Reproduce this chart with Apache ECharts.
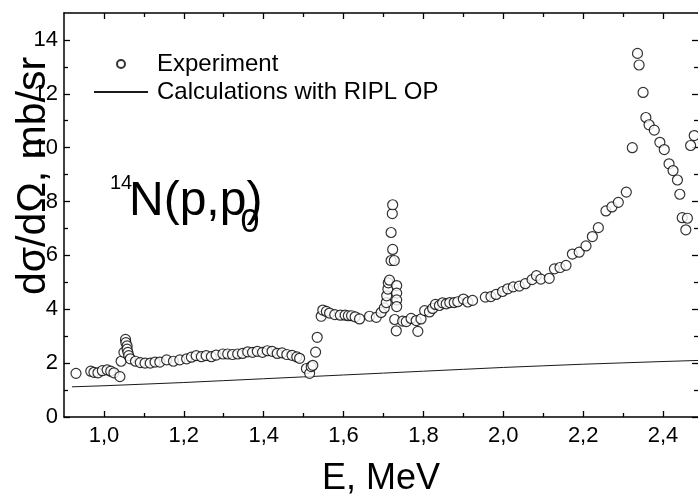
<!DOCTYPE html>
<html>
<head>
<meta charset="utf-8">
<script src="https://cdn.jsdelivr.net/npm/echarts@6/dist/echarts.min.js"></script>
<style>
  html, body { margin: 0; padding: 0; background: #ffffff; }
  #chart { width: 698px; height: 502px; }
</style>
</head>
<body>
<div id="chart"></div>
<script>
// Measured differential cross section, 14N(p,p0)
const expEnergy = [
  0.930, 0.967, 0.975, 0.985, 0.996, 1.008, 1.017, 1.025, 1.040, 1.043,
  1.050, 1.054, 1.055, 1.058, 1.058, 1.060, 1.062, 1.066, 1.079, 1.091,
  1.103, 1.116, 1.128, 1.140, 1.157, 1.174, 1.190, 1.207, 1.219, 1.231,
  1.244, 1.256, 1.269, 1.281, 1.298, 1.310, 1.322, 1.335, 1.347, 1.360,
  1.372, 1.384, 1.397, 1.409, 1.421, 1.434, 1.446, 1.458, 1.471, 1.483,
  1.490, 1.507, 1.515, 1.519, 1.523, 1.530, 1.534, 1.544, 1.548, 1.557,
  1.565, 1.578, 1.592, 1.604, 1.612, 1.620, 1.629, 1.640, 1.665, 1.682,
  1.694, 1.702, 1.707, 1.708, 1.711, 1.712, 1.715, 1.719, 1.727, 1.723,
  1.719, 1.722, 1.723, 1.733, 1.733, 1.733, 1.733, 1.728, 1.732, 1.748,
  1.757, 1.769, 1.782, 1.786, 1.794, 1.803, 1.815, 1.823, 1.830, 1.840,
  1.848, 1.857, 1.866, 1.877, 1.886, 1.900, 1.911, 1.923, 1.955, 1.969,
  1.982, 1.998, 2.011, 2.025, 2.040, 2.055, 2.072, 2.083, 2.094, 2.115,
  2.128, 2.142, 2.157, 2.173, 2.190, 2.207, 2.223, 2.238, 2.257, 2.272,
  2.288, 2.308, 2.323, 2.336, 2.340, 2.350, 2.357, 2.365, 2.378, 2.392,
  2.403, 2.415, 2.425, 2.436, 2.442, 2.448, 2.461, 2.457, 2.469, 2.478
];
const expSigma = [
  1.62, 1.70, 1.66, 1.64, 1.72, 1.75, 1.70, 1.64, 1.50, 2.07,
  2.40, 2.88, 2.76, 2.64, 2.52, 2.40, 2.28, 2.16, 2.07, 2.02,
  2.00, 2.00, 2.04, 2.04, 2.12, 2.07, 2.12, 2.16, 2.22, 2.28,
  2.24, 2.28, 2.24, 2.30, 2.34, 2.34, 2.32, 2.34, 2.36, 2.42,
  2.40, 2.44, 2.40, 2.46, 2.44, 2.36, 2.38, 2.32, 2.29, 2.23,
  2.18, 1.80, 1.62, 1.87, 1.92, 2.41, 2.96, 3.74, 3.97, 3.92,
  3.86, 3.80, 3.78, 3.78, 3.76, 3.76, 3.72, 3.64, 3.74, 3.70,
  3.88, 4.05, 4.25, 4.50, 4.75, 4.98, 5.08, 5.81, 5.81, 6.22,
  6.85, 7.55, 7.88, 4.88, 4.60, 4.35, 4.10, 3.62, 3.20, 3.56,
  3.54, 3.66, 3.58, 3.18, 3.64, 3.95, 3.90, 4.03, 4.18, 4.14,
  4.24, 4.20, 4.25, 4.25, 4.28, 4.38, 4.27, 4.33, 4.45, 4.47,
  4.55, 4.66, 4.76, 4.83, 4.86, 4.95, 5.10, 5.25, 5.12, 5.15,
  5.50, 5.55, 5.63, 6.05, 6.12, 6.35, 6.70, 7.03, 7.65, 7.80,
  7.97, 8.35, 10.00, 13.50, 13.07, 12.05, 11.12, 10.85, 10.65, 10.20,
  9.93, 9.40, 9.15, 8.80, 8.27, 7.40, 7.38, 6.95, 10.08, 10.45
];

// Optical-model calculation (RIPL potential)
const calcEnergy = [0.92, 1.0, 1.1, 1.2, 1.3, 1.4, 1.5, 1.6, 1.7, 1.8, 1.9, 2.0, 2.1, 2.2, 2.3, 2.4, 2.4875];
const calcSigma  = [1.12, 1.16, 1.22, 1.28, 1.35, 1.42, 1.49, 1.56, 1.63, 1.70, 1.77, 1.84, 1.90, 1.96, 2.01, 2.06, 2.10];

// Axis ticks
const xMajorTicks = [1.0, 1.2, 1.4, 1.6, 1.8, 2.0, 2.2, 2.4];
const xMinorTicks = [1.1, 1.3, 1.5, 1.7, 1.9, 2.1, 2.3];
const yMajorTicks = [0, 2, 4, 6, 8, 10, 12, 14];
const yMinorTicks = [1, 3, 5, 7, 9, 11, 13];

const seriesNames = ['Experiment', 'Calculations with RIPL OP'];
const xTitle = 'E, MeV';
const yTitle = 'dσ/dΩ, mb/sr';

const FONT = '"Liberation Sans", Arial, Helvetica, sans-serif';
const X_MIN = 0.9, X_MAX = 2.4875, Y_MIN = 0, Y_MAX = 15;

const chart = echarts.init(document.getElementById('chart'), null, { renderer: 'canvas' });

function xAxisDef(position, ticks, len, showLine, showLabels, extra) {
  return Object.assign({
    type: 'value', position: position, min: X_MIN, max: X_MAX,
    splitLine: { show: false },
    axisLine: { show: showLine, onZero: false, lineStyle: { color: '#000', width: 1.5 } },
    axisTick: { show: true, inside: true, length: len, customValues: ticks,
                lineStyle: { color: '#000', width: 1.3 } },
    axisLabel: { show: showLabels, customValues: ticks, color: '#000', fontFamily: FONT,
                 fontSize: 22, margin: 8,
                 formatter: v => Number(v).toFixed(1).replace('.', ',') }
  }, extra || {});
}
function yAxisDef(position, ticks, len, showLine, showLabels) {
  return {
    type: 'value', position: position, min: Y_MIN, max: Y_MAX,
    splitLine: { show: false },
    axisLine: { show: showLine, onZero: false, lineStyle: { color: '#000', width: 1.5 } },
    axisTick: { show: true, inside: true, length: len, customValues: ticks,
                lineStyle: { color: '#000', width: 1.3 } },
    axisLabel: { show: showLabels, customValues: ticks, color: '#000', fontFamily: FONT,
                 fontSize: 22, margin: 6 }
  };
}

chart.setOption({
  animation: false,
  backgroundColor: '#ffffff',
  grid: { left: 64, top: 13, width: 635, height: 411.5, containLabel: false },
  legend: {
    orient: 'vertical', left: 88, top: 47, itemWidth: 54, itemHeight: 8, itemGap: 4,
    selectedMode: false,
    textStyle: { color: '#000', fontFamily: FONT, fontSize: 24, lineHeight: 24, padding: [0, 0, 0, 4] },
    data: [
      { name: seriesNames[0], icon: 'circle' },
      { name: seriesNames[1], itemStyle: { opacity: 0 } }
    ]
  },
  xAxis: [
    xAxisDef('bottom', xMajorTicks, 6, true, true, {
      name: xTitle, nameLocation: 'middle', nameGap: 44,
      nameTextStyle: { color: '#000', fontFamily: FONT, fontSize: 36 }
    }),
    xAxisDef('bottom', xMinorTicks, 4, false, false),
    xAxisDef('top', xMajorTicks, 6, true, false),
    xAxisDef('top', xMinorTicks, 4, false, false)
  ],
  yAxis: [
    yAxisDef('left', yMajorTicks, 6, true, true),
    yAxisDef('left', yMinorTicks, 4, false, false),
    yAxisDef('right', yMajorTicks, 6, false, false),
    yAxisDef('right', yMinorTicks, 4, false, false)
  ],
  series: [
    {
      name: seriesNames[1], type: 'line', xAxisIndex: 0, yAxisIndex: 0,
      data: calcEnergy.map((e, i) => [e, calcSigma[i]]),
      symbol: 'none', smooth: false, z: 2,
      lineStyle: { color: '#1a1a1a', width: 1 },
      itemStyle: { color: '#1a1a1a' }
    },
    {
      name: seriesNames[0], type: 'scatter', xAxisIndex: 0, yAxisIndex: 0,
      data: expEnergy.map((e, i) => [e, expSigma[i]]),
      symbol: 'circle', symbolSize: 10, z: 3,
      itemStyle: { color: '#ffffff', borderColor: '#000', borderWidth: 1.2 }
    }
  ],
  graphic: [
    {
      type: 'text', x: 34, y: 176, rotation: Math.PI / 2, z: 100,
      style: { text: yTitle, fill: '#000', font: '41px ' + FONT, align: 'center', verticalAlign: 'middle' }
    },
    {
      type: 'text', x: 110, y: 183, z: 100,
      style: { text: '14', fill: '#000', font: '20px ' + FONT, align: 'left', verticalAlign: 'middle' }
    },
    {
      type: 'text', x: 129, y: 202, z: 100,
      style: { text: 'N(p,p)', fill: '#000', font: '48px ' + FONT, align: 'left', verticalAlign: 'middle' }
    },
    {
      type: 'text', x: 250, y: 223, z: 100,
      style: { text: '0', fill: '#000', font: '34px ' + FONT, align: 'center', verticalAlign: 'middle' }
    }
  ]
});
</script>
</body>
</html>
